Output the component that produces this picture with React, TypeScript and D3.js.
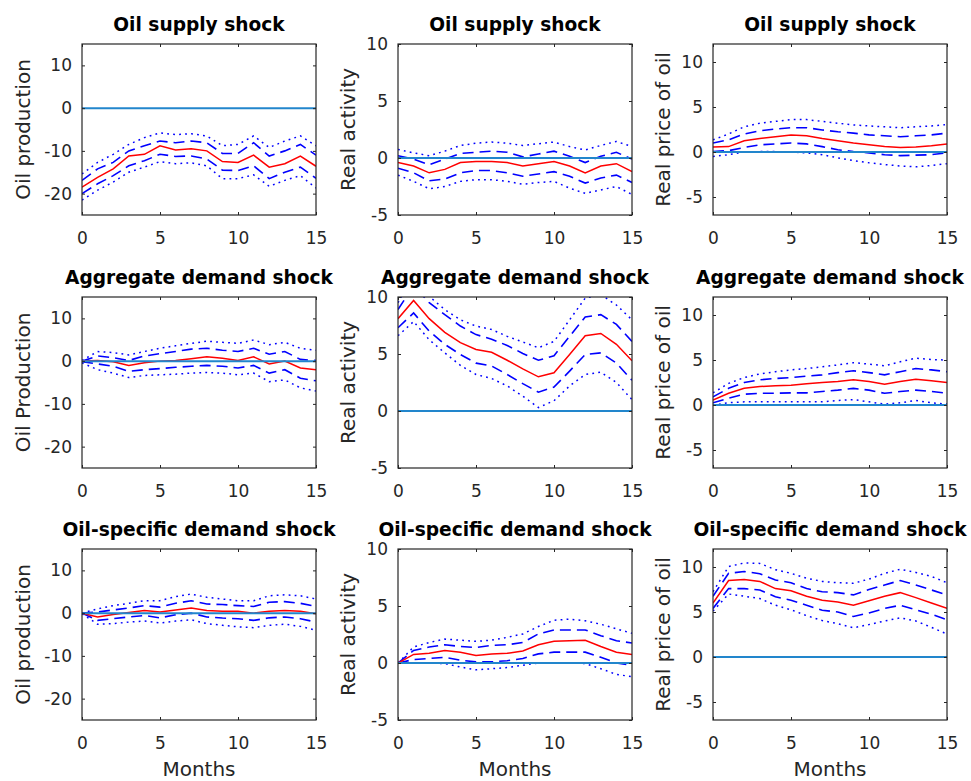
import { useEffect, useRef } from 'react'
import * as d3 from 'd3'

const months = [0, 1, 2, 3, 4, 5, 6, 7, 8, 9, 10, 11, 12, 13, 14, 15]
const xTicks = [0, 5, 10, 15]

const shockTitles = ['Oil supply shock', 'Aggregate demand shock', 'Oil-specific demand shock']
const prodLabels = ['Oil production', 'Oil Production', 'Oil production']
const actLabel = 'Real activity'
const priceLabel = 'Real price of oil'

const prodDomain = [-25, 15]
const actDomain = [-5, 10]
const priceDomain = [-7, 12]
const prodTicks = [-20, -10, 0, 10]
const actTicks = [-5, 0, 5, 10]
const priceTicks = [-5, 0, 5, 10]

// Oil supply shock -> oil production
const supplyProd = [-18.5, -16.2, -14.2, -11.2, -10.8, -8.8, -9.8, -9.5, -10, -12.5, -12.7, -11, -13.8, -13, -11.2, -13.6]
const supplyProdHi68 = [-16.9, -14.2, -12.7, -10, -8.8, -7.7, -8.1, -7.7, -8.1, -10.6, -10.6, -8.1, -11.2, -10, -8.5, -11]
const supplyProdLo68 = [-20, -17.7, -15.8, -13.5, -12.3, -10.8, -11.3, -11.2, -11.9, -14.5, -14.6, -13.5, -16.5, -15, -13.8, -16.4]
const supplyProdHi95 = [-15.4, -12.7, -10.8, -8.5, -6.9, -5.8, -6.2, -6, -6.5, -8.8, -8.5, -6.5, -9.2, -7.7, -6.5, -8.8]
const supplyProdLo95 = [-21.5, -19.2, -17.3, -15, -13.8, -12.5, -13, -12.8, -13.5, -16.5, -16.5, -15.6, -18.3, -16.9, -15.8, -18.7]

// Oil supply shock -> real activity
const supplyAct = [-0.4, -0.7, -1.3, -1.0, -0.4, -0.3, -0.3, -0.4, -0.7, -0.5, -0.3, -0.7, -1.3, -0.7, -0.5, -1.2]
const supplyActHi68 = [0.2, -0.1, -0.6, -0.1, 0.4, 0.5, 0.6, 0.5, 0.1, 0.35, 0.6, 0.15, -0.4, 0.15, 0.5, -0.1]
const supplyActLo68 = [-0.9, -1.3, -2.0, -1.85, -1.3, -1.1, -1.1, -1.3, -1.6, -1.4, -1.2, -1.6, -2.2, -1.75, -1.5, -2.15]
const supplyActHi95 = [0.75, 0.45, 0.2, 0.6, 1.1, 1.3, 1.4, 1.3, 1.1, 1.25, 1.4, 1.0, 0.7, 1.1, 1.45, 1.0]
const supplyActLo95 = [-1.5, -2.05, -2.7, -2.5, -2.05, -1.9, -1.9, -2.05, -2.3, -2.15, -2.05, -2.65, -3.1, -2.8, -2.5, -3.2]

// Oil supply shock -> real price of oil
const supplyPrice = [0.55, 0.6, 1.25, 1.5, 1.7, 1.9, 1.8, 1.5, 1.25, 1.0, 0.8, 0.6, 0.5, 0.55, 0.7, 0.9]
const supplyPriceHi68 = [1.0, 1.35, 2.0, 2.35, 2.55, 2.7, 2.7, 2.45, 2.25, 2.1, 1.9, 1.8, 1.7, 1.8, 1.9, 2.1]
const supplyPriceLo68 = [0.05, 0.15, 0.5, 0.8, 0.9, 1.0, 0.9, 0.6, 0.25, 0.05, -0.1, -0.3, -0.4, -0.35, -0.3, -0.1]
const supplyPriceHi95 = [1.35, 2.0, 2.8, 3.2, 3.4, 3.6, 3.6, 3.4, 3.2, 3.0, 2.9, 2.8, 2.7, 2.8, 2.9, 3.05]
const supplyPriceLo95 = [-0.5, -0.3, 0, 0.05, 0.05, 0, -0.1, -0.3, -0.65, -0.95, -1.2, -1.4, -1.55, -1.65, -1.5, -1.3]

// Aggregate demand shock -> oil production
const aggProd = [0, 0.15, -0.15, -1.0, -0.4, 0, 0.15, 0.55, 1.0, 0.65, 0.15, 1.0, -0.65, 0, -1.6, -2.0]
const aggProdHi68 = [0, 1.2, 0.8, 0.15, 1.2, 1.75, 2.25, 2.8, 3.0, 2.55, 2.25, 3.0, 1.6, 2.25, 0.4, 0.15]
const aggProdLo68 = [-0.15, -0.65, -1.2, -2.4, -2.0, -1.75, -1.45, -1.2, -1.0, -1.2, -1.6, -1.0, -2.8, -2.0, -4.0, -4.6]
const aggProdHi95 = [0.15, 2.25, 2.0, 1.45, 2.25, 3.0, 3.6, 4.15, 4.65, 4.4, 4.15, 4.95, 3.85, 4.4, 3.0, 2.55]
const aggProdLo95 = [-0.4, -2.0, -2.8, -3.85, -3.35, -3.2, -3.05, -2.8, -2.65, -2.8, -3.2, -2.8, -4.8, -4.4, -6.25, -7.0]

// Aggregate demand shock -> real activity
const aggAct = [8.1, 9.7, 8.1, 6.9, 6.0, 5.4, 5.15, 4.45, 3.7, 3.0, 3.35, 4.95, 6.6, 6.8, 5.85, 4.4]
const aggActHi68 = [8.9, 11.0, 9.5, 8.45, 7.45, 6.7, 6.3, 5.75, 5.05, 4.45, 4.85, 6.55, 8.25, 8.45, 7.6, 6.1]
const aggActLo68 = [7.3, 8.6, 7.0, 5.85, 4.95, 4.2, 3.95, 3.2, 2.4, 1.65, 2.1, 3.5, 4.95, 5.1, 4.2, 2.7]
const aggActHi95 = [9.5, 11.8, 10.05, 8.9, 8.0, 7.45, 7.15, 6.55, 6.05, 5.55, 6.1, 8.0, 9.9, 10.2, 9.3, 8.0]
const aggActLo95 = [6.6, 7.85, 6.25, 5.1, 4.0, 3.2, 2.85, 2.2, 1.3, 0.3, 0.9, 2.2, 3.2, 3.4, 2.5, 1.0]

// Aggregate demand shock -> real price of oil
const aggPrice = [0.55, 1.3, 1.85, 2.05, 2.15, 2.2, 2.35, 2.5, 2.6, 2.8, 2.6, 2.3, 2.6, 2.85, 2.7, 2.5]
const aggPriceHi68 = [0.9, 1.85, 2.5, 2.8, 2.95, 3.05, 3.2, 3.35, 3.6, 3.8, 3.6, 3.35, 3.7, 4.05, 3.9, 3.7]
const aggPriceLo68 = [0.25, 0.75, 1.2, 1.3, 1.3, 1.35, 1.35, 1.5, 1.65, 1.85, 1.65, 1.3, 1.5, 1.65, 1.5, 1.3]
const aggPriceHi95 = [1.35, 2.4, 3.05, 3.45, 3.7, 3.9, 4.05, 4.25, 4.45, 4.7, 4.55, 4.35, 4.8, 5.2, 5.05, 5.0]
const aggPriceLo95 = [0, 0.25, 0.35, 0.35, 0.35, 0.35, 0.35, 0.35, 0.5, 0.6, 0.35, 0.1, 0.25, 0.5, 0.25, 0.1]

// Oil-specific demand shock -> oil production
const specProd = [0, -0.9, -0.3, 0.15, 0.6, 0.25, 0.75, 1.2, 0.6, 0.45, 0.45, 0, 0.45, 0.6, 0.45, -0.15]
const specProdHi68 = [0, 0.25, 0.75, 1.2, 1.75, 1.4, 2.3, 2.9, 2.15, 2.0, 1.75, 1.55, 2.55, 2.7, 2.3, 1.55]
const specProdLo68 = [0, -1.7, -1.3, -0.9, -0.55, -1.1, -0.4, 0, -0.9, -1.15, -1.3, -1.7, -1.1, -0.9, -1.3, -2.1]
const specProdHi95 = [0, 1.0, 1.75, 2.3, 2.9, 2.9, 3.85, 4.45, 3.7, 3.3, 2.9, 2.9, 4.05, 4.3, 4.05, 3.3]
const specProdLo95 = [-0.15, -2.6, -2.45, -2.1, -1.85, -2.3, -1.85, -1.55, -2.45, -2.85, -3.2, -3.4, -2.85, -2.6, -3.1, -4.0]

// Oil-specific demand shock -> real activity
const specAct = [0, 0.75, 0.85, 1.1, 0.95, 0.65, 0.8, 0.85, 1.05, 1.6, 1.9, 1.95, 2.0, 1.45, 0.95, 0.75]
const specActHi68 = [0, 1.1, 1.4, 1.6, 1.45, 1.35, 1.55, 1.6, 1.8, 2.55, 2.9, 2.9, 2.9, 2.4, 1.95, 1.75]
const specActLo68 = [0, 0.3, 0.4, 0.5, 0.25, 0.1, 0.1, 0.2, 0.4, 0.8, 0.95, 0.95, 0.95, 0.5, 0, -0.2]
const specActHi95 = [0, 1.4, 1.8, 2.1, 2.0, 1.9, 2.0, 2.25, 2.55, 3.2, 3.75, 3.85, 3.7, 3.4, 3.0, 2.6]
const specActLo95 = [0, 0, 0, -0.05, -0.35, -0.6, -0.5, -0.4, -0.2, 0, 0, 0, -0.05, -0.5, -1.0, -1.2]

// Oil-specific demand shock -> real price of oil
const specPrice = [6.0, 8.5, 8.6, 8.4, 7.6, 7.35, 6.75, 6.3, 6.1, 5.75, 6.25, 6.75, 7.15, 6.6, 6.0, 5.4]
const specPriceHi68 = [6.75, 9.3, 9.5, 9.25, 8.55, 8.25, 7.6, 7.25, 7.15, 6.9, 7.5, 8.0, 8.5, 8.0, 7.45, 6.9]
const specPriceLo68 = [5.4, 7.6, 7.6, 7.45, 6.7, 6.3, 5.75, 5.2, 5.0, 4.5, 4.9, 5.4, 5.75, 5.25, 4.75, 4.15]
const specPriceHi95 = [7.25, 10.05, 10.45, 10.4, 9.7, 9.3, 8.75, 8.4, 8.25, 8.2, 8.65, 9.3, 9.75, 9.4, 8.95, 8.25]
const specPriceLo95 = [5.1, 7.0, 6.75, 6.5, 5.75, 5.25, 4.6, 4.05, 3.7, 3.25, 3.6, 4.0, 4.35, 4.0, 3.3, 2.55]

// one row per shock, columns: production, activity, price
const panels = [
  { mid: supplyProd, hi68: supplyProdHi68, lo68: supplyProdLo68, hi95: supplyProdHi95, lo95: supplyProdLo95 },
  { mid: supplyAct, hi68: supplyActHi68, lo68: supplyActLo68, hi95: supplyActHi95, lo95: supplyActLo95 },
  { mid: supplyPrice, hi68: supplyPriceHi68, lo68: supplyPriceLo68, hi95: supplyPriceHi95, lo95: supplyPriceLo95 },
  { mid: aggProd, hi68: aggProdHi68, lo68: aggProdLo68, hi95: aggProdHi95, lo95: aggProdLo95 },
  { mid: aggAct, hi68: aggActHi68, lo68: aggActLo68, hi95: aggActHi95, lo95: aggActLo95 },
  { mid: aggPrice, hi68: aggPriceHi68, lo68: aggPriceLo68, hi95: aggPriceHi95, lo95: aggPriceLo95 },
  { mid: specProd, hi68: specProdHi68, lo68: specProdLo68, hi95: specProdHi95, lo95: specProdLo95 },
  { mid: specAct, hi68: specActHi68, lo68: specActLo68, hi95: specActHi95, lo95: specActLo95 },
  { mid: specPrice, hi68: specPriceHi68, lo68: specPriceLo68, hi95: specPriceHi95, lo95: specPriceLo95 },
]

const App = () => {
  const chart = useRef<SVGSVGElement>(null)

  const drawChart = () => {
    // layout of the 3x3 grid
    const colLeft = [82, 398, 713]
    const rowTop = [44, 297, 549]
    const plotW = 234
    const plotH = 171
    const ylabelGap = [52, 43, 43]
    const font = '"DejaVu Sans", sans-serif'
    const ink = '#262626'

    const svg = d3.select(chart.current)
    svg.selectAll('*').remove()

    panels.forEach((p, i) => {
      const row = Math.floor(i / 3)
      const col = i % 3
      const domain = col === 0 ? prodDomain : col === 1 ? actDomain : priceDomain
      const ticks = col === 0 ? prodTicks : col === 1 ? actTicks : priceTicks
      const ylabel = col === 0 ? prodLabels[row] : col === 1 ? actLabel : priceLabel

      const x = d3.scaleLinear().domain([0, 15]).range([0, plotW])
      const y = d3.scaleLinear().domain(domain).range([plotH, 0])

      const g = svg.append('g')
        .attr('transform', `translate(${colLeft[col]},${rowTop[row]})`)

      g.append('clipPath').attr('id', `clip${i}`)
        .append('rect').attr('width', plotW).attr('height', plotH)
      const plot = g.append('g').attr('clip-path', `url(#clip${i})`)

      const line = d3.line<number>()
        .x((_, k) => x(months[k]))
        .y(d => y(d))

      // error bands
      ;[p.hi95, p.lo95].forEach(s => {
        plot.append('path').datum(s)
          .attr('d', line).attr('fill', 'none')
          .attr('stroke', '#0000ff').attr('stroke-width', 1.5)
          .attr('stroke-dasharray', '1.8,4.2')
      })
      ;[p.hi68, p.lo68].forEach(s => {
        plot.append('path').datum(s)
          .attr('d', line).attr('fill', 'none')
          .attr('stroke', '#0000ff').attr('stroke-width', 1.6)
          .attr('stroke-dasharray', '11,6')
      })
      // point estimate
      plot.append('path').datum(p.mid)
        .attr('d', line).attr('fill', 'none')
        .attr('stroke', '#ff0000').attr('stroke-width', 1.5)
      // zero line
      plot.append('line')
        .attr('x1', 0).attr('x2', plotW)
        .attr('y1', y(0)).attr('y2', y(0))
        .attr('stroke', '#2286cc').attr('stroke-width', 2)

      // axes, ticks pointing inward on all sides
      const styleAxis = (a: d3.Selection<SVGGElement, unknown, null, undefined>) => {
        a.select('.domain').remove()
        a.attr('color', ink)
        a.selectAll('text')
          .attr('font-family', font).attr('font-size', 17).attr('fill', ink)
      }
      g.append('g').attr('transform', `translate(0,${plotH})`)
        .call(d3.axisBottom(x).tickValues(xTicks).tickSize(-3).tickPadding(17).tickFormat(d3.format('d')))
        .call(styleAxis)
      g.append('g')
        .call(d3.axisTop(x).tickValues(xTicks).tickSize(-3).tickFormat(() => ''))
        .call(styleAxis)
      g.append('g')
        .call(d3.axisLeft(y).tickValues(ticks).tickSize(-3).tickPadding(10).tickFormat(d => `${d}`.replace('−', '-')))
        .call(styleAxis)
      g.append('g').attr('transform', `translate(${plotW},0)`)
        .call(d3.axisRight(y).tickValues(ticks).tickSize(-3).tickFormat(() => ''))
        .call(styleAxis)

      // box
      g.append('rect')
        .attr('width', plotW).attr('height', plotH)
        .attr('fill', 'none').attr('stroke', ink).attr('stroke-width', 1.2)

      // title
      g.append('text')
        .attr('x', plotW / 2).attr('y', -13)
        .attr('text-anchor', 'middle')
        .attr('font-family', font).attr('font-weight', 'bold').attr('font-size', 18.6)
        .attr('fill', '#000')
        .text(shockTitles[row])

      // y label
      g.append('text')
        .attr('transform', `translate(${-ylabelGap[col]},${plotH / 2}) rotate(-90)`)
        .attr('text-anchor', 'middle')
        .attr('font-family', font).attr('font-size', 20)
        .attr('fill', ink)
        .text(ylabel)

      // x label on bottom row
      if (row === 2) {
        g.append('text')
          .attr('x', plotW / 2).attr('y', plotH + 56)
          .attr('text-anchor', 'middle')
          .attr('font-family', font).attr('font-size', 20)
          .attr('fill', ink)
          .text('Months')
      }
    })
  }

  useEffect(() => {
    drawChart()
  }, [])

  return (
    <svg ref={chart} width={971} height={781}
      style={{ position: 'absolute', left: 0, top: 0, background: '#fff' }} />
  )
}

export default App
